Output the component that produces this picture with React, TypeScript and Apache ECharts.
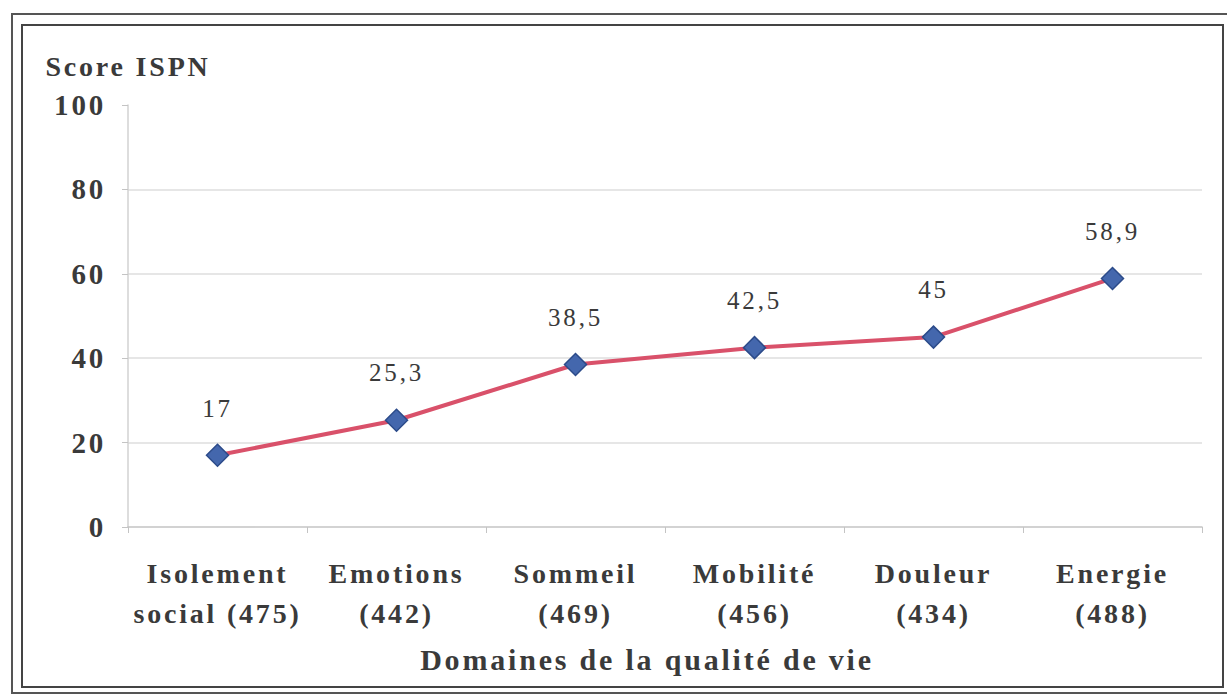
import React, { useEffect, useRef } from "react";
import * as echarts from "echarts";

const categories = [
  "Isolement\nsocial (475)",
  "Emotions\n(442)",
  "Sommeil\n(469)",
  "Mobilité\n(456)",
  "Douleur\n(434)",
  "Energie\n(488)",
];
const scores = [17, 25.3, 38.5, 42.5, 45, 58.9];
const yTicks = [0, 20, 40, 60, 80, 100];

const FONT = "'Liberation Serif', 'Times New Roman', serif";
const TEXT = "#3a3a3a";

export default function App() {
  const ref = useRef<HTMLDivElement>(null);
  useEffect(() => {
    if (!ref.current) return;
    const chart = echarts.init(ref.current, null, { renderer: "svg" });
    chart.setOption({
      animation: false,
      backgroundColor: "#ffffff",
      textStyle: { fontFamily: FONT },
      grid: { left: 128, right: 25, top: 105, bottom: 168, containLabel: false },
      xAxis: {
        type: "category",
        data: categories,
        boundaryGap: true,
        name: "Domaines de la qualité de vie",
        nameLocation: "middle",
        nameGap: 117,
        nameTextStyle: {
          fontFamily: FONT,
          fontSize: 30,
          fontWeight: "bold",
          color: TEXT,
          padding: [0, 36, 0, 0],
        },
        axisLine: { show: true, lineStyle: { color: "#c4c4c4", width: 1.5 } },
        axisTick: { show: true, alignWithLabel: false, length: 6, lineStyle: { color: "#c4c4c4" } },
        axisLabel: {
          fontFamily: FONT,
          fontSize: 28,
          fontWeight: "bold",
          color: TEXT,
          lineHeight: 40,
          margin: 26,
          interval: 0,
        },
        splitLine: { show: false },
      },
      yAxis: {
        type: "value",
        min: yTicks[0],
        max: yTicks[yTicks.length - 1],
        interval: 20,
        name: "Score ISPN",
        nameLocation: "end",
        nameGap: 25,
        nameTextStyle: {
          fontFamily: FONT,
          fontSize: 28,
          fontWeight: "bold",
          color: TEXT,
          align: "center",
        },
        axisLine: { show: true, lineStyle: { color: "#d2d2d2", width: 1.5 } },
        axisTick: { show: true, inside: false, length: 6, lineStyle: { color: "#c4c4c4" } },
        axisLabel: {
          fontFamily: FONT,
          fontSize: 29,
          fontWeight: "bold",
          color: TEXT,
          margin: 22,
        },
        splitLine: {
          show: true,
          showMinLine: false,
          showMaxLine: false,
          lineStyle: { color: "#dedede", width: 1.5 },
        },
      },
      series: [
        {
          type: "line",
          data: scores,
          symbol: "diamond",
          symbolSize: 22,
          lineStyle: { color: "#d9516a", width: 4 },
          itemStyle: { color: "#4467ad", borderColor: "#2c4b8a", borderWidth: 1.5 },
          label: {
            show: true,
            position: "top",
            distance: 23,
            fontFamily: FONT,
            fontSize: 25,
            color: TEXT,
            formatter: (p: any) => String(p.value).replace(".", ","),
          },
          z: 3,
        },
      ],
      graphic: [
        {
          type: "rect",
          shape: { x: 12, y: 14, width: 1230, height: 679 },
          style: { fill: "none", stroke: "#555555", lineWidth: 2 },
          silent: true,
        },
        {
          type: "rect",
          shape: { x: 22, y: 25, width: 1201, height: 662 },
          style: { fill: "none", stroke: "#444444", lineWidth: 2 },
          silent: true,
        },
      ],
    });
    return () => chart.dispose();
  }, []);
  return (
    <>
      <style>{`.ref-chart svg text { letter-spacing: 2.8px; }`}</style>
      <div
        ref={ref}
        className="ref-chart"
        style={{ position: "fixed", left: 0, top: 0, width: 1227, height: 695, background: "#fff" }}
      />
    </>
  );
}
